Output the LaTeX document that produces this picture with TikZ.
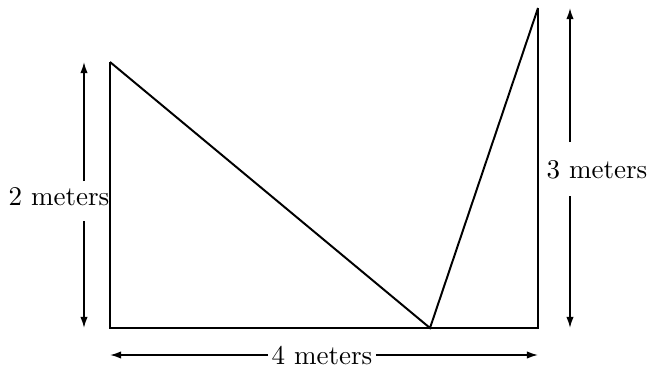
\documentclass[tikz,border=0pt]{standalone}
\usepackage{tikz}
\usetikzlibrary{arrows.meta, positioning}

\begin{document}
\begin{tikzpicture}[x=0.0134cm, y=-0.0134cm, line width=0.75pt,
    dim/.style={-{Latex[length=1.5mm, width=1.0mm]}, line width=0.6pt},
    lbl/.style={inner sep=1pt, font=\fontsize{10.3}{12}\selectfont}]
    \useasboundingbox (0,0) rectangle (650,371);
    % corners of the figure
    \coordinate (tl) at (110,62);
    \coordinate (bl) at (110,328);
    \coordinate (bm) at (430,328);
    \coordinate (br) at (538,328);
    \coordinate (tr) at (538,8);
    \draw (tl) -- (bl) -- (br) -- (tr);
    \draw (tl) -- (bm) -- (tr);
    % dimension labels
    \node[lbl] (two) at (59,197) {2 meters};
    \node[lbl] (three) at (597,170) {3 meters};
    \node[lbl] (four) at (322,355) {4 meters};
    % dimension arrows
    \coordinate (twoTop) at (84,62);
    \coordinate (twoBot) at (84,328);
    \coordinate (threeTop) at (570,8);
    \coordinate (threeBot) at (570,328);
    \coordinate (fourL) at (110,355);
    \coordinate (fourR) at (538,355);
    \draw[dim] (84,181) -- (twoTop);
    \draw[dim] (84,221) -- (twoBot);
    \draw[dim] (570,142) -- (threeTop);
    \draw[dim] (570,196) -- (threeBot);
    \draw[dim] (four.west) -- (fourL);
    \draw[dim] (four.east) -- (fourR);
\end{tikzpicture}
\end{document}
